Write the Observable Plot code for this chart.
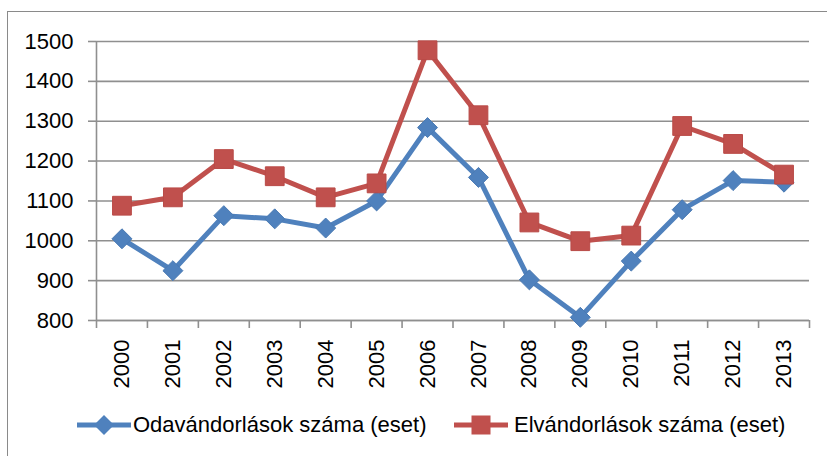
<!DOCTYPE html>
<html>
<head>
<meta charset="utf-8">
<script src="https://cdn.jsdelivr.net/npm/d3@7"></script>
<script src="https://cdn.jsdelivr.net/npm/@observablehq/plot@0.6"></script>
<style>
  html, body { margin: 0; padding: 0; background: #fff; }
  body { width: 827px; height: 456px; position: relative; overflow: hidden;
         font-family: "Liberation Sans", Arial, sans-serif; }
  #chart { position: absolute; left: 0; top: 0; }
  #frame { position: absolute; left: 7px; top: 11px; width: 900px; height: 600px;
           border: 1.5px solid #8a8a8a; pointer-events: none; }
  .leg { position: absolute; top: 412px; height: 26px; }
  .legtext { position: absolute; top: 412px; font-size: 22px; line-height: 26px; color: #000; white-space: nowrap; }
</style>
</head>
<body>
<div id="chart"></div>
<div id="frame"></div>
<script>
const years = [2000, 2001, 2002, 2003, 2004, 2005, 2006, 2007, 2008, 2009, 2010, 2011, 2012, 2013];
const odavandorlasok = [1005, 925, 1063, 1055, 1032, 1100, 1284, 1159, 902, 808, 949, 1078, 1151, 1147];
const elvandorlasok = [1088, 1109, 1205, 1162, 1109, 1144, 1478, 1315, 1046, 999, 1013, 1288, 1243, 1166];
const yTicks = [800, 900, 1000, 1100, 1200, 1300, 1400, 1500];
const seriesNames = ["Odavándorlások száma (eset)", "Elvándorlások száma (eset)"];
const seriesColors = ["#4F81BD", "#C0504D"];

const rowsA = years.map((y, i) => ({year: y, value: odavandorlasok[i]}));
const rowsB = years.map((y, i) => ({year: y, value: elvandorlasok[i]}));
const bounds = years.map(y => y - 0.5).concat([years[years.length - 1] + 0.5]);
const gray = "#8f8f8f";

const chart = Plot.plot({
  width: 827,
  height: 395,
  marginLeft: 96,
  marginRight: 18,
  marginTop: 41,
  marginBottom: 75,
  style: {fontSize: "22px", fontFamily: "'Liberation Sans', Arial, sans-serif", color: "#000", background: "transparent"},
  x: {type: "linear", domain: [bounds[0], bounds[bounds.length - 1]], axis: null},
  y: {domain: [800, 1500], axis: null},
  marks: [
    Plot.gridY(yTicks, {stroke: gray, strokeOpacity: 1, strokeWidth: 1.6}),
    Plot.axisY(yTicks, {label: null, tickSize: 8, tickPadding: 15, stroke: gray, strokeWidth: 1.6, fontSize: 22, tickFormat: d => String(d)}),
    Plot.ruleX([bounds[0]], {y1: 800, y2: 1500, stroke: gray, strokeWidth: 1.6}),
    Plot.ruleY([800], {stroke: gray, strokeWidth: 1.6}),
    Plot.axisX(bounds, {label: null, tickSize: 8, tickFormat: () => "", stroke: gray, strokeWidth: 1.6}),
    Plot.axisX(years, {label: null, tickSize: 0, tickRotate: -90, tickPadding: 19, fontSize: 22, tickFormat: d => String(d)}),
    Plot.line(rowsA, {x: "year", y: "value", stroke: seriesColors[0], strokeWidth: 5}),
    Plot.line(rowsB, {x: "year", y: "value", stroke: seriesColors[1], strokeWidth: 5}),
    Plot.dot(rowsA, {x: "year", y: "value", symbol: "diamond2", r: 9, fill: seriesColors[0], stroke: "#4a7ab3", strokeWidth: 1}),
    Plot.dot(rowsB, {x: "year", y: "value", symbol: "square", r: 10.6, fill: seriesColors[1], stroke: "#b94a47", strokeWidth: 1})
  ]
});
document.getElementById("chart").appendChild(chart);

// legend
const legItems = [
  {name: seriesNames[0], color: seriesColors[0], sym: "diamond", lx: 77, tx: 133},
  {name: seriesNames[1], color: seriesColors[1], sym: "square", lx: 454, tx: 514}
];
for (const it of legItems) {
  const svg = d3.create("svg").attr("class", "leg").attr("width", 56).attr("height", 26)
    .style("left", it.lx + "px");
  svg.append("line").attr("x1", 0).attr("x2", 54).attr("y1", 13).attr("y2", 13)
    .attr("stroke", it.color).attr("stroke-width", 5);
  if (it.sym === "diamond") {
    svg.append("path").attr("d", "M27,3 L37,13 L27,23 L17,13 Z").attr("fill", it.color);
  } else {
    svg.append("rect").attr("x", 17.5).attr("y", 3.5).attr("width", 19).attr("height", 19).attr("fill", it.color);
  }
  document.body.appendChild(svg.node());
  const t = document.createElement("div");
  t.className = "legtext";
  t.style.left = it.tx + "px";
  t.textContent = it.name;
  document.body.appendChild(t);
}
</script>
</body>
</html>
